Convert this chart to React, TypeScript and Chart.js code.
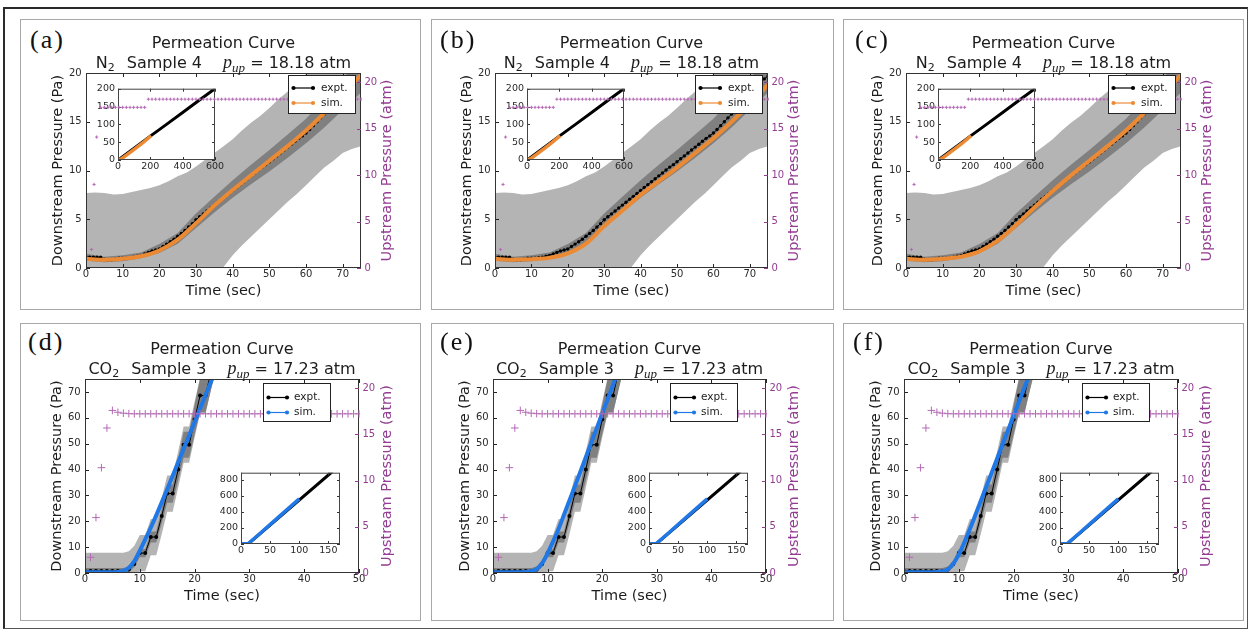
import React, { useEffect, useRef } from 'react';
import { Chart, registerables } from 'chart.js';

Chart.register(...registerables);

const FONT = 'DejaVu Sans';
const SERIF = 'Liberation Serif';

/* ================= N2, Sample 4 (panels a, b, c) ================= */
const n2Time = [0,1,2,3,4,5,6,7,8,9,10,11,12,13,14,15,16,17,18,19,20,21,22,23,24,25,26,27,28,29,30,31,32,33,34,35,36,37,38,39,40,41,42,43,44,45,46,47,48,49,50,51,52,53,54,55,56,57,58,59,60,61,62,63,64,65,66,67,68,69,70,71,72,73,74,75];
const n2Expt = [
  1.1, 1.1, 1.1, 1.1, 1.1, 0.9, 0.85, 0.85, 0.9, 1.0,
  1.0, 1.0, 1.05, 1.1, 1.2, 1.3, 1.45, 1.6, 1.75, 1.85,
  1.95, 2.2, 2.45, 2.7, 2.95, 3.25, 3.55, 3.85, 4.2, 4.55,
  4.95, 5.25, 5.55, 5.85, 6.15, 6.45, 6.75, 7.05, 7.35, 7.65,
  7.95, 8.25, 8.55, 8.85, 9.15, 9.45, 9.75, 10.05, 10.35, 10.6,
  10.9, 11.2, 11.5, 11.8, 12.1, 12.4, 12.7, 13.0, 13.3, 13.55,
  13.85, 14.2, 14.6, 15.0, 15.4, 15.8, 16.2, 16.6, 17.0, 17.4,
  17.8, 18.2, 18.6, 19.0, 19.4, 19.7,
];
const n2SimTime = [0, 5, 10, 15, 20, 25, 30, 35, 40, 45, 50, 55, 60, 65, 70, 75];
const n2SimA = [0.95, 0.85, 0.95, 1.2, 1.8, 2.9, 4.6, 6.4, 8.0, 9.5, 11.0, 12.5, 14.1, 15.9, 17.8, 19.8];
const n2SimB = [0.95, 0.85, 0.9, 1.05, 1.5, 2.5, 4.3, 5.9, 7.5, 8.9, 10.3, 11.8, 13.3, 15.0, 16.8, 18.8];
const n2SimC = [0.95, 0.85, 0.95, 1.15, 1.7, 2.8, 4.4, 6.2, 7.9, 9.5, 11.0, 12.5, 14.1, 15.9, 17.8, 19.8];
const n2BandTime = [0,2.5,5,7.5,10,12.5,15,17.5,20,22.5,25,27.5,30,32.5,35,37.5,40,42.5,45,47.5,50,52.5,55,57.5,60,62.5,65,67.5,70,72.5,75];
const n2LightHi = [7.7, 7.75, 7.7, 7.55, 7.6, 7.8, 8.0, 8.2, 8.5, 8.9, 9.4, 9.8, 10.4, 11.1, 11.8, 12.5, 13.2, 14.1, 14.9, 15.6, 16.4, 17.3, 18.1, 19.0, 19.9, 20.8, 21.6, 22.4, 23.2, 24.0, 24.8];
const n2LightLo = [-6.0, -6.0, -6.1, -6.2, -6.2, -6.0, -5.7, -5.3, -4.8, -4.3, -3.7, -3.1, -2.4, -1.6, -0.8, 0.1, 1.3, 2.3, 3.2, 4.1, 5.0, 5.9, 6.8, 7.6, 8.5, 9.4, 10.3, 11.0, 11.8, 12.2, 12.5];
const n2DarkTime = [0, 5, 10, 15, 20, 25, 30, 35, 40, 45, 50, 55, 60, 65, 70, 75];
const n2DarkHi = [1.45, 1.15, 1.3, 1.6, 2.45, 3.6, 5.6, 7.3, 9.0, 10.6, 12.1, 13.7, 15.3, 17.3, 19.4, 21.6];
const n2DarkLo = [0.75, 0.6, 0.7, 1.0, 1.55, 2.5, 4.1, 5.7, 7.2, 8.6, 9.9, 11.3, 12.8, 14.4, 16.2, 18.0];
const n2UpTime = [1.5,2.2,2.9,4,5,6,7,8,9,10,11,12,13,14,15,16,17,18,19,20,21,22,23,24,25,26,27,28,29,30,31,32,33,34,35,36,37,38,39,40,41,42,43,44,45,46,47,48,49,50,51,52,53,54,55,56,57,58,59,60,61,62,63,64,65,66,67,68,69,70,71,72,73,74,75];
const n2UpVal = [
  2.0, 9.0, 14.1,
  17.3, 17.3, 17.3, 17.3, 17.3, 17.3, 17.3, 17.3, 17.3, 17.3, 17.3, 17.3, 17.3,
  18.18, 18.18, 18.18, 18.18, 18.18, 18.18, 18.18, 18.18, 18.18, 18.18,
  18.18, 18.18, 18.18, 18.18, 18.18, 18.18, 18.18, 18.18, 18.18, 18.18,
  18.18, 18.18, 18.18, 18.18, 18.18, 18.18, 18.18, 18.18, 18.18, 18.18,
  18.18, 18.18, 18.18, 18.18, 18.18, 18.18, 18.18, 18.18, 18.18, 18.18,
  18.18, 18.18, 18.18, 18.18, 18.18, 18.18, 18.18, 18.18, 18.18, 18.18,
  18.18, 18.18, 18.18, 18.18, 18.18, 18.18, 18.18, 18.18, 18.18,
];
const n2InsetExptTime = [0, 100, 200, 300, 400, 500, 600];
const n2InsetExpt = [0, 33, 67, 100, 133, 167, 200];
const n2InsetSimTime = [0, 20, 50, 100, 150, 205];
const n2InsetSim = [0.3, 3, 13, 30, 47, 68];
const n2XTicks = [0, 10, 20, 30, 40, 50, 60, 70];
const n2YTicks = [0, 5, 10, 15, 20];
const n2InsetXTicks = [0, 200, 400, 600];
const n2InsetYTicks = [0, 50, 100, 150, 200];

/* ================= CO2, Sample 3 (panels d, e, f) ================= */
const co2Time = [0,1,2,3,4,5,6,7,8,9,10,11,12,13,14,15,16,17,18,19,20,21,22,23,24];
const co2Expt = [0.8, 0.8, 0.8, 0.8, 0.8, 0.8, 0.8, 0.8, 1.4, 3.5, 7.7, 7.7, 13.9, 13.9, 22.0, 30.7, 30.7, 40.0, 49.6, 49.6, 59.3, 68.6, 68.6, 78.0, 87.3];
const co2SimD = [0.3, 0.3, 0.3, 0.3, 0.3, 0.3, 0.4, 0.8, 2.0, 4.6, 8.6, 13.0, 17.5, 22.3, 27.3, 32.4, 37.6, 42.8, 48.0, 53.2, 58.4, 63.6, 68.8, 74.0, 79.2];
const co2SimE = [0.3, 0.3, 0.3, 0.3, 0.3, 0.3, 0.4, 0.7, 1.5, 3.8, 7.6, 12.2, 17.0, 22.5, 28.0, 33.6, 39.2, 44.8, 50.4, 56.0, 61.6, 67.2, 72.8, 78.4, 84.0];
const co2SimF = [0.3, 0.3, 0.3, 0.3, 0.3, 0.3, 0.4, 0.7, 1.4, 3.6, 7.2, 11.8, 16.9, 22.3, 27.8, 33.3, 38.8, 44.3, 49.8, 55.3, 60.8, 66.3, 71.8, 77.3, 82.8];
const co2LightHi = [7.8, 7.8, 7.8, 7.8, 7.8, 7.8, 7.8, 7.8, 8.4, 10.5, 14.7, 14.7, 20.9, 20.9, 29.0, 37.7, 37.7, 47.0, 56.6, 56.6, 66.3, 75.6, 75.6, 85.0, 94.3];
const co2LightLo = [-6.2, -6.2, -6.2, -6.2, -6.2, -6.2, -6.2, -6.2, -5.6, -3.5, 0.7, 0.7, 6.9, 6.9, 15.0, 23.7, 23.7, 33.0, 42.6, 42.6, 52.3, 61.6, 61.6, 71.0, 80.3];
const co2DarkHi = [1.9, 1.9, 1.9, 1.9, 1.9, 1.9, 1.9, 1.9, 2.5, 4.8, 9.3, 9.3, 16.0, 16.0, 24.8, 34.2, 34.2, 44.2, 54.6, 54.6, 65.0, 75.1, 75.1, 85.2, 95.3];
const co2DarkLo = [-0.3, -0.3, -0.3, -0.3, -0.3, -0.3, -0.3, -0.3, 0.3, 2.2, 6.1, 6.1, 11.8, 11.8, 19.2, 27.2, 27.2, 35.8, 44.6, 44.6, 53.6, 62.1, 62.1, 70.8, 79.3];
const co2UpTime = [1,2,3,4,5,6,7,8,9,10,11,12,13,14,15,16,17,18,19,20,21,22,23,24,25,26,27,28,29,30,31,32,33,34,35,36,37,38,39,40,41,42,43,44,45,46,47,48,49,50];
const co2UpVal = [
  1.7, 6.0, 11.4, 15.7, 17.6, 17.4, 17.3, 17.25,
  17.23, 17.23, 17.23, 17.23, 17.23, 17.23, 17.23, 17.23, 17.23, 17.23,
  17.23, 17.23, 17.23, 17.23, 17.23, 17.23, 17.23, 17.23, 17.23, 17.23,
  17.23, 17.23, 17.23, 17.23, 17.23, 17.23, 17.23, 17.23, 17.23, 17.23,
  17.23, 17.23, 17.23, 17.23, 17.23, 17.23, 17.23, 17.23, 17.23, 17.23,
  17.23, 17.23,
];
const co2InsetExptTime = [0, 10, 13, 157];
const co2InsetExpt = [0, 0, 5, 900];
const co2InsetSimTime = [0, 10, 13, 30, 60, 100];
const co2InsetSim = [3, 3, 8, 115, 305, 560];
const co2XTicks = [0, 10, 20, 30, 40, 50];
const co2YTicks = [0, 10, 20, 30, 40, 50, 60, 70];
const co2InsetXTicks = [0, 50, 100, 150];
const co2InsetYTicks = [0, 200, 400, 600, 800];

const upTicks = [0, 5, 10, 15, 20];

/* ================= text ================= */
const TITLE = 'Permeation Curve';
const X_TITLE = 'Time (sec)';
const Y_TITLE = 'Downstream Pressure (Pa)';
const Y2_TITLE = 'Upstream Pressure (atm)';
const LEGEND_EXPT = 'expt.';
const LEGEND_SIM = 'sim.';

/* ================= styles ================= */
const TEXT = '#1c1c1c';
const TICK = '#2a2a2a';
const LIGHT = '#b4b4b4';
const DARK = '#808080';
const ORANGE = '#ec8a34';
const BLUE = '#1f78e6';
const PURPLE_TEXT = '#923c92';
const PURPLE_MARK = '#b469b4';

const PL = 66, PR = 60, PT = 12, PB = 45;
const IL = 30, IT = 8, IR = 14, IB = 16;

const ROWS: any = {
  N: {
    time: n2Time, expt: n2Expt, simTime: n2SimTime, simColor: ORANGE,
    lightT: n2BandTime, lightHi: n2LightHi, lightLo: n2LightLo,
    darkT: n2DarkTime, darkHi: n2DarkHi, darkLo: n2DarkLo,
    upT: n2UpTime, upV: n2UpVal, upR: 1.6,
    xMax: 75, yMax: 20, y2Max: 21, xTicks: n2XTicks, yTicks: n2YTicks, exptR: 1.7,
    y2TitleDx: 26.5,
    inset: { exT: n2InsetExptTime, ex: n2InsetExpt, siT: n2InsetSimTime, si: n2InsetSim, xMax: 600, yMax: 200, xTicks: n2InsetXTicks, yTicks: n2InsetYTicks, dx: 32, dy: 15, w: 97, h: 72 },
    legend: { right: 6, top: 2, w: 67, h: 38, rows: [13, 28], h0: 5.5, h1: 25, textX: 33 },
    gas: 'N', sample: 'Sample 4', pup: '18.18 atm', labelBase: 49.2,
  },
  C: {
    time: co2Time, expt: co2Expt, simTime: co2Time, simColor: BLUE,
    lightT: co2Time, lightHi: co2LightHi, lightLo: co2LightLo,
    darkT: co2Time, darkHi: co2DarkHi, darkLo: co2DarkLo,
    upT: co2UpTime, upV: co2UpVal, upR: 3.8,
    xMax: 50, yMax: 75, y2Max: 21, xTicks: co2XTicks, yTicks: co2YTicks, exptR: 2,
    y2TitleDx: 28,
    inset: { exT: co2InsetExptTime, ex: co2InsetExpt, siT: co2InsetSimTime, si: co2InsetSim, xMax: 170, yMax: 885, xTicks: co2InsetXTicks, yTicks: co2InsetYTicks, dx: 156, dy: 93, w: 99, h: 72 },
    legend: { right: 29, top: 4, w: 67, h: 38, rows: [14.5, 29.5], h0: 5.5, h1: 24, textX: 31 },
    gas: 'CO', sample: 'Sample 3', pup: '17.23 atm', labelBase: 350.4,
  },
};

const PANELS = [
  { label: '(a)', row: 'N', sim: n2SimA, labelX: 30, box: { x: 20, y: 19, w: 401, h: 291 }, plot: { x: 86, y: 73, w: 275, h: 195 } },
  { label: '(b)', row: 'N', sim: n2SimB, labelX: 440, box: { x: 431, y: 19, w: 403, h: 291 }, plot: { x: 495, y: 73, w: 273, h: 195 } },
  { label: '(c)', row: 'N', sim: n2SimC, labelX: 855, box: { x: 843, y: 19, w: 401, h: 291 }, plot: { x: 906, y: 73, w: 275, h: 195 } },
  { label: '(d)', row: 'C', sim: co2SimD, labelX: 28, box: { x: 20, y: 323, w: 401, h: 298 }, plot: { x: 85, y: 379, w: 274, h: 194 } },
  { label: '(e)', row: 'C', sim: co2SimE, labelX: 440, box: { x: 431, y: 323, w: 403, h: 298 }, plot: { x: 493, y: 379, w: 273, h: 194 } },
  { label: '(f)', row: 'C', sim: co2SimF, labelX: 853, box: { x: 843, y: 323, w: 401, h: 298 }, plot: { x: 904, y: 379, w: 274, h: 194 } },
];

const pts = (xs: number[], ys: number[]) => xs.map((x, i) => ({ x, y: ys[i] }));
const fixedTicks = (vals: number[]) => (s: any) => { s.ticks = vals.map((v) => ({ value: v })); };

function drawInTicks(chart: any, id: string, side: string, len: number, color: string) {
  const s = chart.scales[id];
  const a = chart.chartArea;
  const ctx = chart.ctx;
  ctx.save();
  ctx.strokeStyle = color;
  ctx.lineWidth = 1;
  ctx.beginPath();
  for (const t of s.ticks) {
    const p = Math.round(s.getPixelForValue(t.value)) + 0.5;
    if (side === 'bottom') { ctx.moveTo(p, a.bottom); ctx.lineTo(p, a.bottom - len); }
    if (side === 'top') { ctx.moveTo(p, a.top); ctx.lineTo(p, a.top + len); }
    if (side === 'left') { ctx.moveTo(a.left, p); ctx.lineTo(a.left + len, p); }
    if (side === 'right') { ctx.moveTo(a.right, p); ctx.lineTo(a.right - len, p); }
  }
  ctx.stroke();
  ctx.restore();
}

function drawFrame(chart: any, color: string) {
  const a = chart.chartArea;
  const ctx = chart.ctx;
  ctx.save();
  ctx.strokeStyle = color;
  ctx.lineWidth = 1;
  ctx.strokeRect(a.left + 0.5, a.top + 0.5, a.right - a.left - 1, a.bottom - a.top - 1);
  ctx.restore();
}

const tickFont = { family: FONT, size: 10 };
const titleFont = { family: FONT, size: 14.5 };

function mainConfig(p: any, r: any): any {
  const band = (xs: number[], ys: number[], fill: any, color?: string) => ({
    data: pts(xs, ys), borderWidth: 0, borderColor: 'rgba(0,0,0,0)', pointRadius: 0,
    fill, backgroundColor: color || 'rgba(0,0,0,0)', tension: 0,
  });
  return {
    type: 'line',
    data: {
      datasets: [
        { label: LEGEND_SIM, data: pts(r.simTime, p.sim), borderColor: r.simColor, borderWidth: 4, pointRadius: 0, cubicInterpolationMode: 'monotone', fill: false, clip: 0 },
        { label: LEGEND_EXPT, data: pts(r.time, r.expt), borderColor: '#000', borderWidth: 1, pointRadius: r.exptR, pointBackgroundColor: '#000', pointBorderWidth: 0, fill: false, clip: 0 },
        band(r.darkT, r.darkHi, '+1', DARK),
        band(r.darkT, r.darkLo, false),
        band(r.lightT, r.lightHi, '+1', LIGHT),
        band(r.lightT, r.lightLo, false),
      ],
    },
    options: {
      responsive: false, animation: false, events: [],
      layout: { padding: { left: 0, top: PT, right: PR, bottom: 0 } },
      plugins: { legend: { display: false }, tooltip: { enabled: false } },
      scales: {
        x: {
          type: 'linear', min: 0, max: r.xMax, afterBuildTicks: fixedTicks(r.xTicks),
          grid: { display: false, drawTicks: false }, border: { display: false },
          ticks: { font: tickFont, color: TICK, padding: 0, maxRotation: 0, autoSkip: false },
          title: { display: true, text: X_TITLE, font: titleFont, color: TEXT, padding: { top: 0, bottom: 13.3 } },
          afterFit: (s: any) => { s.height = PB; },
        },
        y: {
          type: 'linear', position: 'left', min: 0, max: r.yMax, afterBuildTicks: fixedTicks(r.yTicks),
          grid: { display: false, drawTicks: false }, border: { display: false },
          ticks: { font: tickFont, color: TICK, padding: 4.3 },
          title: { display: true, text: Y_TITLE, font: titleFont, color: TEXT, padding: { top: 29.5, bottom: 0 } },
          afterFit: (s: any) => { s.width = PL; },
        },
      },
    },
    plugins: [{
      id: 'mainDeco',
      afterDraw(chart: any) {
        drawInTicks(chart, 'x', 'bottom', 4, '#222');
        drawInTicks(chart, 'x', 'top', 4, '#222');
        drawInTicks(chart, 'y', 'left', 4, '#222');
        drawFrame(chart, '#333');
      },
    }],
  };
}

function insetConfig(r: any): any {
  const i = r.inset;
  const insetTick = { family: FONT, size: 9.5 };
  return {
    type: 'line',
    data: {
      datasets: [
        { data: pts(i.siT, i.si), borderColor: r.simColor, borderWidth: 3.5, pointRadius: 0, fill: false, clip: 0 },
        { data: pts(i.exT, i.ex), borderColor: '#000', borderWidth: 3, pointRadius: 0, fill: false, clip: 0 },
      ],
    },
    options: {
      responsive: false, animation: false, events: [],
      layout: { padding: { left: 0, top: IT, right: IR, bottom: 0 } },
      plugins: { legend: { display: false }, tooltip: { enabled: false } },
      scales: {
        x: {
          type: 'linear', min: 0, max: i.xMax, afterBuildTicks: fixedTicks(i.xTicks),
          grid: { display: false, drawTicks: false }, border: { display: false },
          ticks: { font: insetTick, color: TICK, padding: 1, maxRotation: 0, autoSkip: false },
          afterFit: (s: any) => { s.height = IB; },
        },
        y: {
          type: 'linear', min: 0, max: i.yMax, afterBuildTicks: fixedTicks(i.yTicks),
          grid: { display: false, drawTicks: false }, border: { display: false },
          ticks: { font: insetTick, color: TICK, padding: 3 },
          afterFit: (s: any) => { s.width = IL; },
        },
      },
    },
    plugins: [{
      id: 'insetDeco',
      beforeDatasetsDraw(chart: any) {
        const a = chart.chartArea;
        chart.ctx.save();
        chart.ctx.fillStyle = '#fff';
        chart.ctx.fillRect(a.left, a.top, a.right - a.left, a.bottom - a.top);
        chart.ctx.restore();
      },
      afterDraw(chart: any) {
        drawInTicks(chart, 'x', 'bottom', 3, '#333');
        drawInTicks(chart, 'x', 'top', 3, '#333');
        drawInTicks(chart, 'y', 'left', 3, '#333');
        drawInTicks(chart, 'y', 'right', 3, '#333');
        drawFrame(chart, '#444');
      },
    }],
  };
}

function overlayConfig(r: any): any {
  const items = [
    { label: LEGEND_EXPT, color: '#000' },
    { label: LEGEND_SIM, color: r.simColor },
  ];
  const lg = r.legend;
  return {
    type: 'line',
    data: {
      datasets: [
        { data: pts(r.upT, r.upV), showLine: false, pointStyle: 'cross', pointRadius: r.upR, pointBorderColor: PURPLE_MARK, pointBorderWidth: 1, yAxisID: 'y2', clip: 1 },
      ],
    },
    options: {
      responsive: false, animation: false, events: [],
      layout: { padding: { left: PL, top: PT, right: 0, bottom: PB } },
      plugins: { legend: { display: false }, tooltip: { enabled: false } },
      scales: {
        x: { type: 'linear', display: false, min: 0, max: r.xMax },
        y2: {
          type: 'linear', position: 'right', min: 0, max: r.y2Max, afterBuildTicks: fixedTicks(upTicks),
          grid: { display: false, drawTicks: false }, border: { display: false },
          ticks: { font: tickFont, color: PURPLE_TEXT, padding: 3.5 },
          title: { display: false, text: Y2_TITLE },
          afterFit: (s: any) => { s.width = PR; },
        },
      },
    },
    plugins: [{
      id: 'overDeco',
      afterDraw(chart: any) {
        drawInTicks(chart, 'y2', 'right', 4, PURPLE_TEXT);
        const { ctx, chartArea: a } = chart;
        // right-axis title, reading bottom-to-top like matplotlib
        ctx.save();
        ctx.translate(a.right + r.y2TitleDx, (a.top + a.bottom) / 2);
        ctx.rotate(-Math.PI / 2);
        ctx.font = `14.5px "${FONT}"`;
        ctx.fillStyle = PURPLE_TEXT;
        ctx.textAlign = 'center';
        ctx.textBaseline = 'middle';
        ctx.fillText(chart.options.scales.y2.title.text, 0, 0);
        ctx.restore();
        // legend
        const x0 = Math.round(a.right - lg.right - lg.w);
        const y0 = Math.round(a.top + lg.top);
        ctx.save();
        ctx.fillStyle = '#fff';
        ctx.fillRect(x0, y0, lg.w, lg.h);
        ctx.strokeStyle = '#222';
        ctx.lineWidth = 1;
        ctx.strokeRect(x0 + 0.5, y0 + 0.5, lg.w, lg.h);
        items.forEach((it, k) => {
          const y = y0 + lg.rows[k];
          ctx.strokeStyle = it.color;
          ctx.lineWidth = 1.2;
          ctx.beginPath();
          ctx.moveTo(x0 + lg.h0, y);
          ctx.lineTo(x0 + lg.h1, y);
          ctx.stroke();
          ctx.fillStyle = it.color;
          [x0 + lg.h0, x0 + lg.h1].forEach((px) => {
            ctx.beginPath();
            ctx.arc(px, y, 2.1, 0, Math.PI * 2);
            ctx.fill();
          });
          ctx.fillStyle = TEXT;
          ctx.font = `10.5px "${FONT}"`;
          ctx.textAlign = 'left';
          ctx.textBaseline = 'middle';
          ctx.fillText(it.label, x0 + lg.textX, y);
        });
        ctx.restore();
      },
    }],
  };
}

function Panel({ p }: { p: any }) {
  const r = ROWS[p.row];
  const mainRef = useRef<HTMLCanvasElement>(null);
  const insetRef = useRef<HTMLCanvasElement>(null);
  const overRef = useRef<HTMLCanvasElement>(null);

  useEffect(() => {
    const charts = [
      new Chart(mainRef.current as HTMLCanvasElement, mainConfig(p, r)),
      new Chart(insetRef.current as HTMLCanvasElement, insetConfig(r)),
      new Chart(overRef.current as HTMLCanvasElement, overlayConfig(r)),
    ];
    return () => charts.forEach((c) => c.destroy());
  }, []);

  const cw = PL + p.plot.w + PR;
  const ch = PT + p.plot.h + PB;
  const cl = p.plot.x - PL;
  const ct = p.plot.y - PT;
  const i = r.inset;
  const iw = IL + i.w + IR;
  const ih = IT + i.h + IB;
  const il = p.plot.x + i.dx - IL;
  const it = p.plot.y + i.dy - IT;
  const cx = p.plot.x + p.plot.w / 2;
  const abs = (l: number, t: number, w: number, h: number): any => ({ position: 'absolute', left: l, top: t, width: w, height: h, display: 'block' });

  return (
    <>
      <div style={{ position: 'absolute', left: p.box.x, top: p.box.y, width: p.box.w, height: p.box.h, boxSizing: 'border-box', border: '1px solid #a8a8a8', background: '#fff' }} />
      <canvas ref={mainRef} width={cw} height={ch} style={abs(cl, ct, cw, ch)} />
      <canvas ref={insetRef} width={iw} height={ih} style={abs(il, it, iw, ih)} />
      <canvas ref={overRef} width={cw} height={ch} style={abs(cl, ct, cw, ch)} />
      <div style={{ position: 'absolute', left: p.labelX, top: r.labelBase - 21.8, fontFamily: SERIF, fontSize: 26, lineHeight: 1, letterSpacing: 2, color: '#111', whiteSpace: 'pre' }}>{p.label}</div>
      <div style={{ position: 'absolute', left: cx - 200, width: 400, top: p.plot.y - 24.5 - 13.5, textAlign: 'center', fontFamily: FONT, fontSize: 16, lineHeight: 1, color: TEXT, whiteSpace: 'pre' }}>{TITLE}</div>
      <div style={{ position: 'absolute', left: cx - 200, width: 400, top: p.plot.y - 4.5 - 13.5, textAlign: 'center', fontFamily: FONT, fontSize: 16, lineHeight: 1, color: TEXT, whiteSpace: 'pre' }}>
        <span style={{ lineHeight: 0 }}>{r.gas}<sub style={{ fontSize: 11, verticalAlign: -3, lineHeight: 0 }}>2</sub></span>
        <span style={{ marginLeft: 12, lineHeight: 0 }}>{r.sample}</span>
        <span style={{ marginLeft: 21, fontFamily: SERIF, fontStyle: 'italic', fontSize: 18, lineHeight: 0 }}>p<sub style={{ fontSize: 13, verticalAlign: -4, lineHeight: 0 }}>up</sub></span>
        <span style={{ lineHeight: 0 }}>{' = ' + r.pup}</span>
      </div>
    </>
  );
}

export default function App() {
  return (
    <div style={{ position: 'absolute', left: 0, top: 0, width: 1250, height: 630, overflow: 'hidden', background: '#fff' }}>
      <div style={{ position: 'absolute', left: 3, top: 7, width: 1245, height: 622, boxSizing: 'border-box', borderTop: '2px solid #2a2a2a', borderLeft: '2px solid #2a2a2a', borderRight: '1px solid #555', borderBottom: '1px solid #555' }} />
      {PANELS.map((p) => <Panel key={p.label} p={p} />)}
    </div>
  );
}
